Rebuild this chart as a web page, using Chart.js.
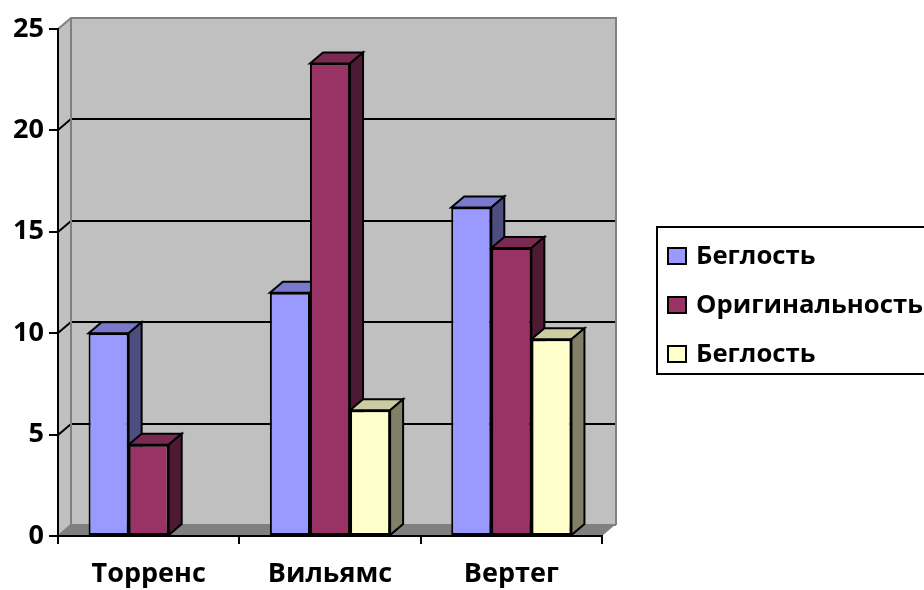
<!DOCTYPE html>
<html>
<head>
<meta charset="utf-8">
<script src="https://cdn.jsdelivr.net/npm/chart.js@4/dist/chart.umd.min.js"></script>
<style>
  html, body { margin: 0; padding: 0; background: #fff; }
  canvas { display: block; }
</style>
</head>
<body>
<canvas id="chart" width="924" height="590"></canvas>
<script>
// Данные диаграммы
const categories = ["Торренс", "Вильямс", "Вертег"];
const seriesNames = ["Беглость", "Оригинальность", "Беглость"];
const fluency = [10, 12, 16.2];
const originality = [4.5, 23.3, 14.2];
const fluency2 = [null, 6.2, 9.7];
const yTicks = [0, 5, 10, 15, 20, 25];

// Цвета граней столбиков: лицевая, верх, бок
const FRONT = ["#9999ff", "#993366", "#ffffcc"];
const TOP = ["#7a7acc", "#7a2952", "#ccccA3"];
const SIDE = ["#4d4d80", "#4d1a33", "#808066"];

const WALL = "#c0c0c0";
const WALL_EDGE = "#808080";
const FLOOR = "#808080";

// Смещение задней стенки (глубина)
const DX = 13;
const DY = -11;

const FONT = "'Open Sans', Lato, 'DejaVu Sans', sans-serif";

function poly(ctx, pts, fill, stroke, lw) {
  ctx.beginPath();
  ctx.moveTo(pts[0][0], pts[0][1]);
  for (let i = 1; i < pts.length; i++) ctx.lineTo(pts[i][0], pts[i][1]);
  ctx.closePath();
  if (fill) { ctx.fillStyle = fill; ctx.fill(); }
  if (stroke) { ctx.strokeStyle = stroke; ctx.lineWidth = lw || 1; ctx.stroke(); }
}

// Стенки, пол и линии сетки на задней стенке
const walls = {
  id: "walls",
  beforeDraw(chart) {
    const { ctx, chartArea: a, scales } = chart;
    const y = scales.y;
    ctx.save();
    ctx.lineJoin = "miter";
    // задняя стенка
    poly(ctx, [[a.left + DX, a.top + DY], [a.right + DX, a.top + DY], [a.right + DX, a.bottom + DY], [a.left + DX, a.bottom + DY]], WALL);
    // левая стенка
    poly(ctx, [[a.left, a.top], [a.left + DX, a.top + DY], [a.left + DX, a.bottom + DY], [a.left, a.bottom]], WALL);
    // пол
    poly(ctx, [[a.left, a.bottom], [a.left + DX, a.bottom + DY], [a.right + DX, a.bottom + DY], [a.right, a.bottom]], FLOOR);

    // линии сетки
    ctx.strokeStyle = "#000";
    ctx.lineWidth = 2;
    yTicks.forEach((v) => {
      if (v === 0 || v === y.max) return;
      const py = Math.round(y.getPixelForValue(v));
      ctx.beginPath();
      ctx.moveTo(a.left, py);
      ctx.lineTo(a.left + DX, py + DY);
      ctx.lineTo(a.right + DX, py + DY);
      ctx.stroke();
    });

    // кромки стенок
    ctx.strokeStyle = WALL_EDGE;
    ctx.lineWidth = 2;
    ctx.beginPath();
    ctx.moveTo(a.left, a.top);
    ctx.lineTo(a.left + DX, a.top + DY);
    ctx.lineTo(a.right + DX + 1, a.top + DY);
    ctx.lineTo(a.right + DX + 1, a.bottom + DY);
    ctx.moveTo(a.left + DX, a.top + DY);
    ctx.lineTo(a.left + DX, a.bottom + DY);
    ctx.lineTo(a.left, a.bottom);
    ctx.moveTo(a.left + DX, a.bottom + DY);
    ctx.lineTo(a.right + DX + 1, a.bottom + DY);
    ctx.stroke();
    ctx.restore();
  },
};

// Верхние и боковые грани столбиков (лицевые рисует сам Chart.js поверх)
const bars3d = {
  id: "bars3d",
  beforeDatasetsDraw(chart) {
    const ctx = chart.ctx;
    ctx.save();
    ctx.lineJoin = "miter";
    chart.data.datasets.forEach((ds, di) => {
      const meta = chart.getDatasetMeta(di);
      meta.data.forEach((bar, i) => {
        if (ds.data[i] == null) return;
        const { x, y, base, width } = bar.getProps(["x", "y", "base", "width"], true);
        const l = x - width / 2;
        const r = x + width / 2;
        poly(ctx, [[l, y], [l + DX, y + DY], [r + DX, y + DY], [r, y]], TOP[di], "#000", 2);
        poly(ctx, [[r, y], [r + DX, y + DY], [r + DX, base + DY], [r, base]], SIDE[di], "#000", 2);
      });
    });
    ctx.restore();
  },
};

// Легенда в рамке справа
const legendBox = {
  id: "legendBox",
  afterDraw(chart) {
    const ctx = chart.ctx;
    ctx.save();
    ctx.strokeStyle = "#000";
    ctx.lineWidth = 2;
    ctx.strokeRect(657, 227, 280, 147);
    const rows = [256, 305, 354];
    ctx.font = "bold 25.7px " + FONT;
    ctx.textBaseline = "middle";
    ctx.textAlign = "left";
    seriesNames.forEach((name, i) => {
      ctx.fillStyle = FRONT[i];
      ctx.fillRect(668, rows[i] - 8, 18, 16);
      ctx.lineWidth = 2;
      ctx.strokeRect(668, rows[i] - 8, 18, 16);
      ctx.fillStyle = "#000";
      ctx.fillText(name, 696, rows[i] + 1);
    });
    ctx.restore();
  },
};

const series = [fluency, originality, fluency2];

new Chart(document.getElementById("chart"), {
  type: "bar",
  data: {
    labels: categories,
    datasets: series.map((values, i) => ({
      label: seriesNames[i],
      data: values,
      backgroundColor: FRONT[i],
      borderColor: "#000",
      borderWidth: 2,
      borderSkipped: false,
    })),
  },
  options: {
    responsive: false,
    devicePixelRatio: 1,
    animation: false,
    categoryPercentage: 0.663,
    barPercentage: 1,
    layout: { padding: { top: 29, right: 322, bottom: 0, left: 0 } },
    plugins: {
      legend: { display: false },
      tooltip: { enabled: false },
    },
    scales: {
      x: {
        afterFit: (s) => { s.height = 54; },
        grid: { offset: true, drawOnChartArea: false, drawTicks: true, tickLength: 8, color: "#000", lineWidth: 2 },
        border: { display: true, color: "#000", width: 2 },
        ticks: { color: "#000", padding: 14, font: { family: FONT, size: 27, weight: "bold" } },
      },
      y: {
        min: 0,
        max: 25,
        afterFit: (s) => { s.width = 58; },
        afterBuildTicks: (s) => { s.ticks = yTicks.map((v) => ({ value: v })); },
        grid: { drawOnChartArea: false, drawTicks: true, tickLength: 9, color: "#000", lineWidth: 2 },
        border: { display: true, color: "#000", width: 2 },
        ticks: { color: "#000", padding: 5, font: { family: FONT, size: 27, weight: "bold" } },
      },
    },
  },
  plugins: [walls, bars3d, legendBox],
});
</script>
</body>
</html>
